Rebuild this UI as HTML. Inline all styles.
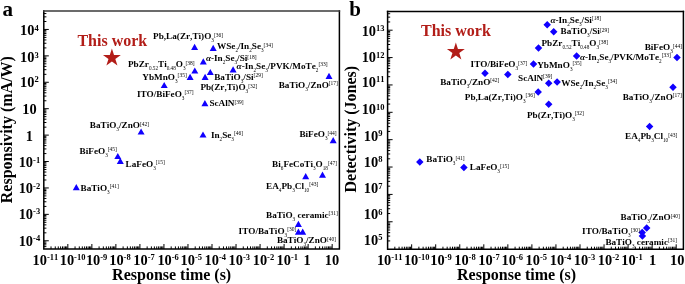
<!DOCTYPE html>
<html><head><meta charset="utf-8"><title>Responsivity and detectivity vs response time</title>
<style>
html,body{margin:0;padding:0;background:#fff;}
body{width:685px;height:284px;overflow:hidden;font-family:"Liberation Serif",serif;}
svg{display:block;will-change:transform;font-kerning:none;}
</style></head><body>
<svg width="685" height="284" viewBox="0 0 685 284" font-family='"Liberation Serif", serif' font-weight="bold"><path d="M43.8 11V249H339.4V11" fill="none" stroke="#000" stroke-width="1.5" stroke-linecap="square"/>
<path d="M43.8 11H339.4" fill="none" stroke="#3a3a3a" stroke-width="1.5" stroke-linecap="square"/>
<path d="M51.03 249V246.4M55.27 249V246.4M58.27 249V246.4M60.6 249V246.4M62.5 249V246.4M64.11 249V246.4M65.5 249V246.4M66.73 249V246.4M67.83 249V244M75.06 249V246.4M79.3 249V246.4M82.3 249V246.4M84.63 249V246.4M86.53 249V246.4M88.14 249V246.4M89.53 249V246.4M90.76 249V246.4M91.86 249V244M99.09 249V246.4M103.33 249V246.4M106.33 249V246.4M108.66 249V246.4M110.56 249V246.4M112.17 249V246.4M113.56 249V246.4M114.79 249V246.4M115.89 249V244M123.12 249V246.4M127.36 249V246.4M130.36 249V246.4M132.69 249V246.4M134.59 249V246.4M136.2 249V246.4M137.59 249V246.4M138.82 249V246.4M139.92 249V244M147.15 249V246.4M151.39 249V246.4M154.39 249V246.4M156.72 249V246.4M158.62 249V246.4M160.23 249V246.4M161.62 249V246.4M162.85 249V246.4M163.95 249V244M171.18 249V246.4M175.42 249V246.4M178.42 249V246.4M180.75 249V246.4M182.65 249V246.4M184.26 249V246.4M185.65 249V246.4M186.88 249V246.4M187.98 249V244M195.21 249V246.4M199.45 249V246.4M202.45 249V246.4M204.78 249V246.4M206.68 249V246.4M208.29 249V246.4M209.68 249V246.4M210.91 249V246.4M212.01 249V244M219.24 249V246.4M223.48 249V246.4M226.48 249V246.4M228.81 249V246.4M230.71 249V246.4M232.32 249V246.4M233.71 249V246.4M234.94 249V246.4M236.04 249V244M243.27 249V246.4M247.51 249V246.4M250.51 249V246.4M252.84 249V246.4M254.74 249V246.4M256.35 249V246.4M257.74 249V246.4M258.97 249V246.4M260.07 249V244M267.3 249V246.4M271.54 249V246.4M274.54 249V246.4M276.87 249V246.4M278.77 249V246.4M280.38 249V246.4M281.77 249V246.4M283 249V246.4M284.1 249V244M291.33 249V246.4M295.57 249V246.4M298.57 249V246.4M300.9 249V246.4M302.8 249V246.4M304.41 249V246.4M305.8 249V246.4M307.03 249V246.4M308.13 249V244M315.36 249V246.4M319.6 249V246.4M322.6 249V246.4M324.93 249V246.4M326.83 249V246.4M328.44 249V246.4M329.83 249V246.4M331.06 249V246.4M332.16 249V244M43.8 246.64H46.4M43.8 244.87H46.4M43.8 243.34H46.4M43.8 241.99H46.4M43.8 240.78H48.8M43.8 232.83H46.4M43.8 228.17H46.4M43.8 224.87H46.4M43.8 222.31H46.4M43.8 220.22H46.4M43.8 218.45H46.4M43.8 216.92H46.4M43.8 215.57H46.4M43.8 214.36H48.8M43.8 206.41H46.4M43.8 201.76H46.4M43.8 198.46H46.4M43.8 195.9H46.4M43.8 193.81H46.4M43.8 192.04H46.4M43.8 190.51H46.4M43.8 189.15H46.4M43.8 187.95H48.8M43.8 179.99H46.4M43.8 175.34H46.4M43.8 172.04H46.4M43.8 169.48H46.4M43.8 167.39H46.4M43.8 165.62H46.4M43.8 164.09H46.4M43.8 162.74H46.4M43.8 161.53H48.8M43.8 153.58H46.4M43.8 148.93H46.4M43.8 145.63H46.4M43.8 143.07H46.4M43.8 140.97H46.4M43.8 139.21H46.4M43.8 137.67H46.4M43.8 136.32H46.4M43.8 135.11H48.8M43.8 127.16H46.4M43.8 122.51H46.4M43.8 119.21H46.4M43.8 116.65H46.4M43.8 114.56H46.4M43.8 112.79H46.4M43.8 111.26H46.4M43.8 109.91H46.4M43.8 108.7H48.8M43.8 100.75H46.4M43.8 96.09H46.4M43.8 92.79H46.4M43.8 90.23H46.4M43.8 88.14H46.4M43.8 86.37H46.4M43.8 84.84H46.4M43.8 83.49H46.4M43.8 82.28H48.8M43.8 74.33H46.4M43.8 69.68H46.4M43.8 66.38H46.4M43.8 63.82H46.4M43.8 61.73H46.4M43.8 59.96H46.4M43.8 58.43H46.4M43.8 57.07H46.4M43.8 55.87H48.8M43.8 47.91H46.4M43.8 43.26H46.4M43.8 39.96H46.4M43.8 37.4H46.4M43.8 35.31H46.4M43.8 33.54H46.4M43.8 32.01H46.4M43.8 30.66H46.4M43.8 29.45H48.8M43.8 21.5H46.4M43.8 16.85H46.4M43.8 13.55H46.4" stroke="#000" stroke-width="1" fill="none"/>
<path d="M387.6 11.4V249.3H683.4V11.4" fill="none" stroke="#000" stroke-width="1.5" stroke-linecap="square"/>
<path d="M387.6 11.4H683.4" fill="none" stroke="#000" stroke-width="1.5" stroke-linecap="square"/>
<path d="M394.84 249.3V246.7M399.07 249.3V246.7M402.08 249.3V246.7M404.41 249.3V246.7M406.31 249.3V246.7M407.92 249.3V246.7M409.32 249.3V246.7M410.55 249.3V246.7M411.65 249.3V244.3M418.89 249.3V246.7M423.12 249.3V246.7M426.13 249.3V246.7M428.46 249.3V246.7M430.36 249.3V246.7M431.97 249.3V246.7M433.37 249.3V246.7M434.6 249.3V246.7M435.7 249.3V244.3M442.94 249.3V246.7M447.17 249.3V246.7M450.18 249.3V246.7M452.51 249.3V246.7M454.41 249.3V246.7M456.02 249.3V246.7M457.42 249.3V246.7M458.65 249.3V246.7M459.75 249.3V244.3M466.99 249.3V246.7M471.22 249.3V246.7M474.23 249.3V246.7M476.56 249.3V246.7M478.46 249.3V246.7M480.07 249.3V246.7M481.47 249.3V246.7M482.7 249.3V246.7M483.8 249.3V244.3M491.04 249.3V246.7M495.27 249.3V246.7M498.28 249.3V246.7M500.61 249.3V246.7M502.51 249.3V246.7M504.12 249.3V246.7M505.52 249.3V246.7M506.75 249.3V246.7M507.85 249.3V244.3M515.09 249.3V246.7M519.32 249.3V246.7M522.33 249.3V246.7M524.66 249.3V246.7M526.56 249.3V246.7M528.17 249.3V246.7M529.57 249.3V246.7M530.8 249.3V246.7M531.9 249.3V244.3M539.14 249.3V246.7M543.37 249.3V246.7M546.38 249.3V246.7M548.71 249.3V246.7M550.61 249.3V246.7M552.22 249.3V246.7M553.62 249.3V246.7M554.85 249.3V246.7M555.95 249.3V244.3M563.19 249.3V246.7M567.42 249.3V246.7M570.43 249.3V246.7M572.76 249.3V246.7M574.66 249.3V246.7M576.27 249.3V246.7M577.67 249.3V246.7M578.9 249.3V246.7M580 249.3V244.3M587.24 249.3V246.7M591.47 249.3V246.7M594.48 249.3V246.7M596.81 249.3V246.7M598.71 249.3V246.7M600.32 249.3V246.7M601.72 249.3V246.7M602.95 249.3V246.7M604.05 249.3V244.3M611.29 249.3V246.7M615.52 249.3V246.7M618.53 249.3V246.7M620.86 249.3V246.7M622.76 249.3V246.7M624.37 249.3V246.7M625.77 249.3V246.7M627 249.3V246.7M628.1 249.3V244.3M635.34 249.3V246.7M639.57 249.3V246.7M642.58 249.3V246.7M644.91 249.3V246.7M646.81 249.3V246.7M648.42 249.3V246.7M649.82 249.3V246.7M651.05 249.3V246.7M652.15 249.3V244.3M659.39 249.3V246.7M663.62 249.3V246.7M666.63 249.3V246.7M668.96 249.3V246.7M670.86 249.3V246.7M672.47 249.3V246.7M673.87 249.3V246.7M675.1 249.3V246.7M676.2 249.3V244.3M387.6 240.91H390.2M387.6 236.09H390.2M387.6 232.67H390.2M387.6 230.01H390.2M387.6 227.85H390.2M387.6 226.02H390.2M387.6 224.43H390.2M387.6 223.03H390.2M387.6 221.78H392.6M387.6 213.54H390.2M387.6 208.72H390.2M387.6 205.3H390.2M387.6 202.65H390.2M387.6 200.48H390.2M387.6 198.65H390.2M387.6 197.06H390.2M387.6 195.66H390.2M387.6 194.41H392.6M387.6 186.17H390.2M387.6 181.35H390.2M387.6 177.93H390.2M387.6 175.28H390.2M387.6 173.11H390.2M387.6 171.28H390.2M387.6 169.69H390.2M387.6 168.29H390.2M387.6 167.04H392.6M387.6 158.8H390.2M387.6 153.98H390.2M387.6 150.56H390.2M387.6 147.91H390.2M387.6 145.74H390.2M387.6 143.91H390.2M387.6 142.32H390.2M387.6 140.92H390.2M387.6 139.67H392.6M387.6 131.43H390.2M387.6 126.61H390.2M387.6 123.19H390.2M387.6 120.54H390.2M387.6 118.38H390.2M387.6 116.54H390.2M387.6 114.96H390.2M387.6 113.56H390.2M387.6 112.3H392.6M387.6 104.07H390.2M387.6 99.25H390.2M387.6 95.83H390.2M387.6 93.17H390.2M387.6 91.01H390.2M387.6 89.18H390.2M387.6 87.59H390.2M387.6 86.19H390.2M387.6 84.94H392.6M387.6 76.7H390.2M387.6 71.88H390.2M387.6 68.46H390.2M387.6 65.81H390.2M387.6 63.64H390.2M387.6 61.81H390.2M387.6 60.22H390.2M387.6 58.82H390.2M387.6 57.57H392.6M387.6 49.33H390.2M387.6 44.51H390.2M387.6 41.09H390.2M387.6 38.44H390.2M387.6 36.27H390.2M387.6 34.44H390.2M387.6 32.85H390.2M387.6 31.45H390.2M387.6 30.2H392.6M387.6 21.96H390.2M387.6 17.14H390.2M387.6 13.72H390.2" stroke="#000" stroke-width="1" fill="none"/>
<text x="32.59" y="264.5" fill="#000" text-anchor="start"><tspan dy="0" font-size="14.4">10</tspan><tspan dy="-5" font-size="8.5">-11</tspan></text>
<text x="59.69" y="264.5" fill="#000" text-anchor="start"><tspan dy="0" font-size="14.4">10</tspan><tspan dy="-5" font-size="8.5">-10</tspan></text>
<text x="85.89" y="264.5" fill="#000" text-anchor="start"><tspan dy="0" font-size="14.4">10</tspan><tspan dy="-5" font-size="8.5">-9</tspan></text>
<text x="109.19" y="264.5" fill="#000" text-anchor="start"><tspan dy="0" font-size="14.4">10</tspan><tspan dy="-5" font-size="8.5">-8</tspan></text>
<text x="133.29" y="264.5" fill="#000" text-anchor="start"><tspan dy="0" font-size="14.4">10</tspan><tspan dy="-5" font-size="8.5">-7</tspan></text>
<text x="157.39" y="264.5" fill="#000" text-anchor="start"><tspan dy="0" font-size="14.4">10</tspan><tspan dy="-5" font-size="8.5">-6</tspan></text>
<text x="180.49" y="264.5" fill="#000" text-anchor="start"><tspan dy="0" font-size="14.4">10</tspan><tspan dy="-5" font-size="8.5">-5</tspan></text>
<text x="204.49" y="264.5" fill="#000" text-anchor="start"><tspan dy="0" font-size="14.4">10</tspan><tspan dy="-5" font-size="8.5">-4</tspan></text>
<text x="228.59" y="264.5" fill="#000" text-anchor="start"><tspan dy="0" font-size="14.4">10</tspan><tspan dy="-5" font-size="8.5">-3</tspan></text>
<text x="252.69" y="264.5" fill="#000" text-anchor="start"><tspan dy="0" font-size="14.4">10</tspan><tspan dy="-5" font-size="8.5">-2</tspan></text>
<text x="276.49" y="264.5" fill="#000" text-anchor="start"><tspan dy="0" font-size="14.4">10</tspan><tspan dy="-5" font-size="8.5">-1</tspan></text>
<text x="303.49" y="264.5" fill="#000" text-anchor="start"><tspan dy="0" font-size="14.4">1</tspan></text>
<text x="324.69" y="264.5" fill="#000" text-anchor="start"><tspan dy="0" font-size="14.4">10</tspan></text>
<text x="376.89" y="264.5" fill="#000" text-anchor="start"><tspan dy="0" font-size="14.4">10</tspan><tspan dy="-5" font-size="8.5">-11</tspan></text>
<text x="403.89" y="264.5" fill="#000" text-anchor="start"><tspan dy="0" font-size="14.4">10</tspan><tspan dy="-5" font-size="8.5">-10</tspan></text>
<text x="430.19" y="264.5" fill="#000" text-anchor="start"><tspan dy="0" font-size="14.4">10</tspan><tspan dy="-5" font-size="8.5">-9</tspan></text>
<text x="454.19" y="264.5" fill="#000" text-anchor="start"><tspan dy="0" font-size="14.4">10</tspan><tspan dy="-5" font-size="8.5">-8</tspan></text>
<text x="478.19" y="264.5" fill="#000" text-anchor="start"><tspan dy="0" font-size="14.4">10</tspan><tspan dy="-5" font-size="8.5">-7</tspan></text>
<text x="501.59" y="264.5" fill="#000" text-anchor="start"><tspan dy="0" font-size="14.4">10</tspan><tspan dy="-5" font-size="8.5">-6</tspan></text>
<text x="525.59" y="264.5" fill="#000" text-anchor="start"><tspan dy="0" font-size="14.4">10</tspan><tspan dy="-5" font-size="8.5">-5</tspan></text>
<text x="549.69" y="264.5" fill="#000" text-anchor="start"><tspan dy="0" font-size="14.4">10</tspan><tspan dy="-5" font-size="8.5">-4</tspan></text>
<text x="573.69" y="264.5" fill="#000" text-anchor="start"><tspan dy="0" font-size="14.4">10</tspan><tspan dy="-5" font-size="8.5">-3</tspan></text>
<text x="597.84" y="264.5" fill="#000" text-anchor="start"><tspan dy="0" font-size="14.4">10</tspan><tspan dy="-5" font-size="8.5">-2</tspan></text>
<text x="621.19" y="264.5" fill="#000" text-anchor="start"><tspan dy="0" font-size="14.4">10</tspan><tspan dy="-5" font-size="8.5">-1</tspan></text>
<text x="648.99" y="264.5" fill="#000" text-anchor="start"><tspan dy="0" font-size="14.4">1</tspan></text>
<text x="670.09" y="264.5" fill="#000" text-anchor="start"><tspan dy="0" font-size="14.4">10</tspan></text>
<text x="29.4" y="245.75" fill="#000" text-anchor="middle"><tspan dy="0" font-size="14.4">10</tspan><tspan dy="-4.3" font-size="8.5">-4</tspan></text>
<text x="29.4" y="218.75" fill="#000" text-anchor="middle"><tspan dy="0" font-size="14.4">10</tspan><tspan dy="-4.3" font-size="8.5">-3</tspan></text>
<text x="29.4" y="192.95" fill="#000" text-anchor="middle"><tspan dy="0" font-size="14.4">10</tspan><tspan dy="-4.3" font-size="8.5">-2</tspan></text>
<text x="29.4" y="166.85" fill="#000" text-anchor="middle"><tspan dy="0" font-size="14.4">10</tspan><tspan dy="-4.3" font-size="8.5">-1</tspan></text>
<text x="29.4" y="140.75" fill="#000" text-anchor="middle"><tspan dy="0" font-size="14.4">1</tspan></text>
<text x="29.4" y="113.75" fill="#000" text-anchor="middle"><tspan dy="0" font-size="14.4">10</tspan></text>
<text x="29.4" y="86.65" fill="#000" text-anchor="middle"><tspan dy="0" font-size="14.4">10</tspan><tspan dy="-4.3" font-size="8.5">2</tspan></text>
<text x="29.4" y="61.85" fill="#000" text-anchor="middle"><tspan dy="0" font-size="14.4">10</tspan><tspan dy="-4.3" font-size="8.5">3</tspan></text>
<text x="29.4" y="35.05" fill="#000" text-anchor="middle"><tspan dy="0" font-size="14.4">10</tspan><tspan dy="-4.3" font-size="8.5">4</tspan></text>
<text x="373.1" y="35.6" fill="#000" text-anchor="middle"><tspan dy="0" font-size="14.4">10</tspan><tspan dy="-4.3" font-size="8.5">13</tspan></text>
<text x="373.1" y="62" fill="#000" text-anchor="middle"><tspan dy="0" font-size="14.4">10</tspan><tspan dy="-4.3" font-size="8.5">12</tspan></text>
<text x="373.1" y="86.6" fill="#000" text-anchor="middle"><tspan dy="0" font-size="14.4">10</tspan><tspan dy="-4.3" font-size="8.5">11</tspan></text>
<text x="373.1" y="113.8" fill="#000" text-anchor="middle"><tspan dy="0" font-size="14.4">10</tspan><tspan dy="-4.3" font-size="8.5">10</tspan></text>
<text x="373.1" y="140.7" fill="#000" text-anchor="middle"><tspan dy="0" font-size="14.4">10</tspan><tspan dy="-4.3" font-size="8.5">9</tspan></text>
<text x="373.1" y="166.7" fill="#000" text-anchor="middle"><tspan dy="0" font-size="14.4">10</tspan><tspan dy="-4.3" font-size="8.5">8</tspan></text>
<text x="373.1" y="192.8" fill="#000" text-anchor="middle"><tspan dy="0" font-size="14.4">10</tspan><tspan dy="-4.3" font-size="8.5">7</tspan></text>
<text x="373.1" y="219.1" fill="#000" text-anchor="middle"><tspan dy="0" font-size="14.4">10</tspan><tspan dy="-4.3" font-size="8.5">6</tspan></text>
<text x="373.1" y="244.5" fill="#000" text-anchor="middle"><tspan dy="0" font-size="14.4">10</tspan><tspan dy="-4.3" font-size="8.5">5</tspan></text>
<text x="112.1" y="279.8" font-size="16">Response time (s)</text>
<text x="457" y="279.8" font-size="16">Response time (s)</text>
<text transform="translate(11.6 203.2) rotate(-90)" font-size="16">Responsivity (mA/W)</text>
<text transform="translate(355.6 192.5) rotate(-90)" font-size="16">Detectivity (Jones)</text>
<text x="2.6" y="15.5" font-size="21">a</text>
<text x="349.3" y="15.7" font-size="21">b</text>
<text x="77.4" y="45.5" font-size="16" fill="#B21D18">This work</text>
<text x="421" y="35.5" font-size="16" fill="#B21D18">This work</text>
<polygon points="111.9,48.5 114.01,54.99 120.84,55 115.32,59.01 117.43,65.5 111.9,61.49 106.37,65.5 108.48,59.01 102.96,55 109.79,54.99" fill="#B21D18"/>
<polygon points="455.85,42.5 457.96,48.99 464.79,49 459.27,53.01 461.38,59.5 455.85,55.49 450.32,59.5 452.43,53.01 446.91,49 453.74,48.99" fill="#B21D18"/>
<path d="M194.6 43.7L198.1 49.9L191.1 49.9ZM213.2 44.7L216.7 50.9L209.7 50.9ZM203.3 58.25L206.8 64.45L199.8 64.45ZM233.1 66.2L236.6 72.4L229.6 72.4ZM194.8 67.4L198.3 73.6L191.3 73.6ZM210.3 68.9L213.8 75.1L206.8 75.1ZM190.1 73.8L193.6 80L186.6 80ZM205.1 73.8L208.6 80L201.6 80ZM164.2 81.9L167.7 88.1L160.7 88.1ZM329 72.7L332.5 78.9L325.5 78.9ZM204.9 100L208.4 106.2L201.4 106.2ZM141.1 128.4L144.6 134.6L137.6 134.6ZM203 131.4L206.5 137.6L199.5 137.6ZM333.2 137.1L336.7 143.3L329.7 143.3ZM117.8 152.9L121.3 159.1L114.3 159.1ZM120.3 157.7L123.8 163.9L116.8 163.9ZM305.7 173.1L309.2 179.3L302.2 179.3ZM322.5 171.6L326 177.8L319 177.8ZM76.3 184L79.8 190.2L72.8 190.2ZM298.4 220.8L301.9 227L294.9 227ZM298.4 228.6L301.9 234.8L294.9 234.8ZM302.7 228.6L306.2 234.8L299.2 234.8Z" fill="#1000FF"/>
<path d="M547.2 21.05L550.95 24.8L547.2 28.55L543.45 24.8ZM553.7 27.95L557.45 31.7L553.7 35.45L549.95 31.7ZM538.5 44.35L542.25 48.1L538.5 51.85L534.75 48.1ZM576.6 52.35L580.35 56.1L576.6 59.85L572.85 56.1ZM677 53.75L680.75 57.5L677 61.25L673.25 57.5ZM533.5 60.15L537.25 63.9L533.5 67.65L529.75 63.9ZM485 69.55L488.75 73.3L485 77.05L481.25 73.3ZM507.8 70.65L511.55 74.4L507.8 78.15L504.05 74.4ZM548.7 79.45L552.45 83.2L548.7 86.95L544.95 83.2ZM557.1 78.35L560.85 82.1L557.1 85.85L553.35 82.1ZM538.2 88.25L541.95 92L538.2 95.75L534.45 92ZM548.7 100.45L552.45 104.2L548.7 107.95L544.95 104.2ZM673 83.55L676.75 87.3L673 91.05L669.25 87.3ZM649.6 122.65L653.35 126.4L649.6 130.15L645.85 126.4ZM419.8 158.35L423.55 162.1L419.8 165.85L416.05 162.1ZM463.9 163.75L467.65 167.5L463.9 171.25L460.15 167.5ZM646.7 224.15L650.45 227.9L646.7 231.65L642.95 227.9ZM642.2 228.65L645.95 232.4L642.2 236.15L638.45 232.4ZM642.4 232.35L646.15 236.1L642.4 239.85L638.65 236.1Z" fill="#1000FF"/>
<text x="153.1" y="39.2" fill="#000" text-anchor="start"><tspan dy="0" font-size="9.2">Pb,La(Zr,Ti)O</tspan><tspan dy="3" font-size="5.2" font-weight="normal">3</tspan><tspan dy="-5.5" font-size="5.5" font-weight="normal">[36]</tspan></text>
<text x="217" y="49" fill="#000" text-anchor="start"><tspan dy="0" font-size="9.2">WSe</tspan><tspan dy="3" font-size="5.2" font-weight="normal">2</tspan><tspan dy="-3" font-size="9.2">/In</tspan><tspan dy="3" font-size="5.2" font-weight="normal">2</tspan><tspan dy="-3" font-size="9.2">Se</tspan><tspan dy="3" font-size="5.2" font-weight="normal">3</tspan><tspan dy="-5.5" font-size="5.5" font-weight="normal">[34]</tspan></text>
<text x="205.9" y="61" fill="#000" text-anchor="start"><tspan dy="0" font-size="9.2"><tspan font-style="italic">α</tspan>-In</tspan><tspan dy="3" font-size="5.2" font-weight="normal">2</tspan><tspan dy="-3" font-size="9.2">Se</tspan><tspan dy="3" font-size="5.2" font-weight="normal">3</tspan><tspan dy="-3" font-size="9.2">/Si</tspan><tspan dy="-2.5" font-size="5.5" font-weight="normal">[18]</tspan></text>
<text x="128" y="67.3" fill="#000" text-anchor="start"><tspan dy="0" font-size="9.2">PbZr</tspan><tspan dy="3" font-size="5.2" font-weight="normal">0.52</tspan><tspan dy="-3" font-size="9.2">Ti</tspan><tspan dy="3" font-size="5.2" font-weight="normal">0.48</tspan><tspan dy="-3" font-size="9.2">O</tspan><tspan dy="3" font-size="5.2" font-weight="normal">3</tspan><tspan dy="-5.5" font-size="5.5" font-weight="normal">[38]</tspan></text>
<text x="236.6" y="68.5" fill="#000" text-anchor="start"><tspan dy="0" font-size="9.2"><tspan font-style="italic">α</tspan>-In</tspan><tspan dy="3" font-size="5.2" font-weight="normal">2</tspan><tspan dy="-3" font-size="9.2">Se</tspan><tspan dy="3" font-size="5.2" font-weight="normal">3</tspan><tspan dy="-3" font-size="9.2">/PVK/MoTe</tspan><tspan dy="3" font-size="5.2" font-weight="normal">2</tspan><tspan dy="-5.5" font-size="5.5" font-weight="normal">[33]</tspan></text>
<text x="142.3" y="79.8" fill="#000" text-anchor="start"><tspan dy="0" font-size="9.2">YbMnO</tspan><tspan dy="3" font-size="5.2" font-weight="normal">3</tspan><tspan dy="-5.5" font-size="5.5" font-weight="normal">[35]</tspan></text>
<text x="214.2" y="79.8" fill="#000" text-anchor="start"><tspan dy="0" font-size="9.2">BaTiO</tspan><tspan dy="3" font-size="5.2" font-weight="normal">3</tspan><tspan dy="-3" font-size="9.2">/Si</tspan><tspan dy="-2.5" font-size="5.5" font-weight="normal">[29]</tspan></text>
<text x="200.4" y="90.3" fill="#000" text-anchor="start"><tspan dy="0" font-size="9.2">Pb(Zr,Ti)O</tspan><tspan dy="3" font-size="5.2" font-weight="normal">3</tspan><tspan dy="-5.5" font-size="5.5" font-weight="normal">[32]</tspan></text>
<text x="136.9" y="96.7" fill="#000" text-anchor="start"><tspan dy="0" font-size="9.2">ITO/BiFeO</tspan><tspan dy="3" font-size="5.2" font-weight="normal">3</tspan><tspan dy="-5.5" font-size="5.5" font-weight="normal">[37]</tspan></text>
<text x="278.7" y="87.8" fill="#000" text-anchor="start"><tspan dy="0" font-size="9.2">BaTiO</tspan><tspan dy="3" font-size="5.2" font-weight="normal">3</tspan><tspan dy="-3" font-size="9.2">/ZnO</tspan><tspan dy="-2.5" font-size="5.5" font-weight="normal">[17]</tspan></text>
<text x="209.4" y="106.4" fill="#000" text-anchor="start"><tspan dy="0" font-size="9.2">ScAlN</tspan><tspan dy="-2.5" font-size="5.5" font-weight="normal">[39]</tspan></text>
<text x="89.8" y="128.1" fill="#000" text-anchor="start"><tspan dy="0" font-size="9.2">BaTiO</tspan><tspan dy="3" font-size="5.2" font-weight="normal">3</tspan><tspan dy="-3" font-size="9.2">/ZnO</tspan><tspan dy="-2.5" font-size="5.5" font-weight="normal">[42]</tspan></text>
<text x="210.9" y="137.8" fill="#000" text-anchor="start"><tspan dy="0" font-size="9.2">In</tspan><tspan dy="3" font-size="5.2" font-weight="normal">2</tspan><tspan dy="-3" font-size="9.2">Se</tspan><tspan dy="3" font-size="5.2" font-weight="normal">3</tspan><tspan dy="-5.5" font-size="5.5" font-weight="normal">[46]</tspan></text>
<text x="299.4" y="137.1" fill="#000" text-anchor="start"><tspan dy="0" font-size="9.2">BiFeO</tspan><tspan dy="3" font-size="5.2" font-weight="normal">3</tspan><tspan dy="-5.5" font-size="5.5" font-weight="normal">[44]</tspan></text>
<text x="79.6" y="153.8" fill="#000" text-anchor="start"><tspan dy="0" font-size="9.2">BiFeO</tspan><tspan dy="3" font-size="5.2" font-weight="normal">3</tspan><tspan dy="-5.5" font-size="5.5" font-weight="normal">[45]</tspan></text>
<text x="125.6" y="166.7" fill="#000" text-anchor="start"><tspan dy="0" font-size="9.2">LaFeO</tspan><tspan dy="3" font-size="5.2" font-weight="normal">3</tspan><tspan dy="-5.5" font-size="5.5" font-weight="normal">[15]</tspan></text>
<text x="272.1" y="167.1" fill="#000" text-anchor="start"><tspan dy="0" font-size="9.2">Bi</tspan><tspan dy="3" font-size="5.2" font-weight="normal">6</tspan><tspan dy="-3" font-size="9.2">FeCoTi</tspan><tspan dy="3" font-size="5.2" font-weight="normal">3</tspan><tspan dy="-3" font-size="9.2">O</tspan><tspan dy="3" font-size="5.2" font-weight="normal">18</tspan><tspan dy="-5.5" font-size="5.5" font-weight="normal">[47]</tspan></text>
<text x="266.1" y="188.7" fill="#000" text-anchor="start"><tspan dy="0" font-size="9.2">EA</tspan><tspan dy="3" font-size="5.2" font-weight="normal">4</tspan><tspan dy="-3" font-size="9.2">Pb</tspan><tspan dy="3" font-size="5.2" font-weight="normal">3</tspan><tspan dy="-3" font-size="9.2">Cl</tspan><tspan dy="3" font-size="5.2" font-weight="normal">10</tspan><tspan dy="-5.5" font-size="5.5" font-weight="normal">[43]</tspan></text>
<text x="80.5" y="190.7" fill="#000" text-anchor="start"><tspan dy="0" font-size="9.2">BaTiO</tspan><tspan dy="3" font-size="5.2" font-weight="normal">3</tspan><tspan dy="-5.5" font-size="5.5" font-weight="normal">[41]</tspan></text>
<text x="266" y="217.8" fill="#000" text-anchor="start"><tspan dy="0" font-size="9.2">BaTiO</tspan><tspan dy="3" font-size="5.2" font-weight="normal">3</tspan><tspan dy="-3" font-size="9.2"> ceramic</tspan><tspan dy="-2.5" font-size="5.5" font-weight="normal">[31]</tspan></text>
<text x="238.6" y="233.7" fill="#000" text-anchor="start"><tspan dy="0" font-size="9.2">ITO/BaTiO</tspan><tspan dy="3" font-size="5.2" font-weight="normal">3</tspan><tspan dy="-5.5" font-size="5.5" font-weight="normal">[30]</tspan></text>
<text x="276.9" y="243.4" fill="#000" text-anchor="start"><tspan dy="0" font-size="9.2">BaTiO</tspan><tspan dy="3" font-size="5.2" font-weight="normal">3</tspan><tspan dy="-3" font-size="9.2">/ZnO</tspan><tspan dy="-2.5" font-size="5.5" font-weight="normal">[40]</tspan></text>
<text x="550.4" y="22.5" fill="#000" text-anchor="start"><tspan dy="0" font-size="9.2"><tspan font-style="italic">α</tspan>-In</tspan><tspan dy="3" font-size="5.2" font-weight="normal">2</tspan><tspan dy="-3" font-size="9.2">Se</tspan><tspan dy="3" font-size="5.2" font-weight="normal">3</tspan><tspan dy="-3" font-size="9.2">/Si</tspan><tspan dy="-2.5" font-size="5.5" font-weight="normal">[18]</tspan></text>
<text x="560.5" y="34" fill="#000" text-anchor="start"><tspan dy="0" font-size="9.2">BaTiO</tspan><tspan dy="3" font-size="5.2" font-weight="normal">3</tspan><tspan dy="-3" font-size="9.2">/Si</tspan><tspan dy="-2.5" font-size="5.5" font-weight="normal">[29]</tspan></text>
<text x="541.5" y="46.2" fill="#000" text-anchor="start"><tspan dy="0" font-size="9.2">PbZr</tspan><tspan dy="3" font-size="5.2" font-weight="normal">0.52</tspan><tspan dy="-3" font-size="9.2">Ti</tspan><tspan dy="3" font-size="5.2" font-weight="normal">0.48</tspan><tspan dy="-3" font-size="9.2">O</tspan><tspan dy="3" font-size="5.2" font-weight="normal">3</tspan><tspan dy="-5.5" font-size="5.5" font-weight="normal">[38]</tspan></text>
<text x="644.7" y="50" fill="#000" text-anchor="start"><tspan dy="0" font-size="9.2">BiFeO</tspan><tspan dy="3" font-size="5.2" font-weight="normal">3</tspan><tspan dy="-5.5" font-size="5.5" font-weight="normal">[44]</tspan></text>
<text x="579.9" y="59.8" fill="#000" text-anchor="start"><tspan dy="0" font-size="9.2"><tspan font-style="italic">α</tspan>-In</tspan><tspan dy="3" font-size="5.2" font-weight="normal">2</tspan><tspan dy="-3" font-size="9.2">Se</tspan><tspan dy="3" font-size="5.2" font-weight="normal">3</tspan><tspan dy="-3" font-size="9.2">/PVK/MoTe</tspan><tspan dy="3" font-size="5.2" font-weight="normal">2</tspan><tspan dy="-5.5" font-size="5.5" font-weight="normal">[33]</tspan></text>
<text x="470.6" y="67" fill="#000" text-anchor="start"><tspan dy="0" font-size="9.2">ITO/BiFeO</tspan><tspan dy="3" font-size="5.2" font-weight="normal">3</tspan><tspan dy="-5.5" font-size="5.5" font-weight="normal">[37]</tspan></text>
<text x="537.2" y="67.7" fill="#000" text-anchor="start"><tspan dy="0" font-size="9.2">YbMnO</tspan><tspan dy="3" font-size="5.2" font-weight="normal">3</tspan><tspan dy="-5.5" font-size="5.5" font-weight="normal">[35]</tspan></text>
<text x="518.1" y="80.8" fill="#000" text-anchor="start"><tspan dy="0" font-size="9.2">ScAlN</tspan><tspan dy="-2.5" font-size="5.5" font-weight="normal">[39]</tspan></text>
<text x="561.3" y="85.6" fill="#000" text-anchor="start"><tspan dy="0" font-size="9.2">WSe</tspan><tspan dy="3" font-size="5.2" font-weight="normal">2</tspan><tspan dy="-3" font-size="9.2">/In</tspan><tspan dy="3" font-size="5.2" font-weight="normal">2</tspan><tspan dy="-3" font-size="9.2">Se</tspan><tspan dy="3" font-size="5.2" font-weight="normal">3</tspan><tspan dy="-5.5" font-size="5.5" font-weight="normal">[34]</tspan></text>
<text x="440.2" y="84.8" fill="#000" text-anchor="start"><tspan dy="0" font-size="9.2">BaTiO</tspan><tspan dy="3" font-size="5.2" font-weight="normal">3</tspan><tspan dy="-3" font-size="9.2">/ZnO</tspan><tspan dy="-2.5" font-size="5.5" font-weight="normal">[42]</tspan></text>
<text x="464.8" y="99.9" fill="#000" text-anchor="start"><tspan dy="0" font-size="9.2">Pb,La(Zr,Ti)O</tspan><tspan dy="3" font-size="5.2" font-weight="normal">3</tspan><tspan dy="-5.5" font-size="5.5" font-weight="normal">[36]</tspan></text>
<text x="622.7" y="99.7" fill="#000" text-anchor="start"><tspan dy="0" font-size="9.2">BaTiO</tspan><tspan dy="3" font-size="5.2" font-weight="normal">3</tspan><tspan dy="-3" font-size="9.2">/ZnO</tspan><tspan dy="-2.5" font-size="5.5" font-weight="normal">[17]</tspan></text>
<text x="527" y="117.5" fill="#000" text-anchor="start"><tspan dy="0" font-size="9.2">Pb(Zr,Ti)O</tspan><tspan dy="3" font-size="5.2" font-weight="normal">3</tspan><tspan dy="-5.5" font-size="5.5" font-weight="normal">[32]</tspan></text>
<text x="625.1" y="139.2" fill="#000" text-anchor="start"><tspan dy="0" font-size="9.2">EA</tspan><tspan dy="3" font-size="5.2" font-weight="normal">4</tspan><tspan dy="-3" font-size="9.2">Pb</tspan><tspan dy="3" font-size="5.2" font-weight="normal">3</tspan><tspan dy="-3" font-size="9.2">Cl</tspan><tspan dy="3" font-size="5.2" font-weight="normal">10</tspan><tspan dy="-5.5" font-size="5.5" font-weight="normal">[43]</tspan></text>
<text x="426.3" y="162" fill="#000" text-anchor="start"><tspan dy="0" font-size="9.2">BaTiO</tspan><tspan dy="3" font-size="5.2" font-weight="normal">3</tspan><tspan dy="-5.5" font-size="5.5" font-weight="normal">[41]</tspan></text>
<text x="469.8" y="170.1" fill="#000" text-anchor="start"><tspan dy="0" font-size="9.2">LaFeO</tspan><tspan dy="3" font-size="5.2" font-weight="normal">3</tspan><tspan dy="-5.5" font-size="5.5" font-weight="normal">[15]</tspan></text>
<text x="620.6" y="220.3" fill="#000" text-anchor="start"><tspan dy="0" font-size="9.2">BaTiO</tspan><tspan dy="3" font-size="5.2" font-weight="normal">3</tspan><tspan dy="-3" font-size="9.2">/ZnO</tspan><tspan dy="-2.5" font-size="5.5" font-weight="normal">[40]</tspan></text>
<text x="582.1" y="234.1" fill="#000" text-anchor="start"><tspan dy="0" font-size="9.2">ITO/BaTiO</tspan><tspan dy="3" font-size="5.2" font-weight="normal">3</tspan><tspan dy="-5.5" font-size="5.5" font-weight="normal">[30]</tspan></text>
<text x="605.4" y="244.6" fill="#000" text-anchor="start"><tspan dy="0" font-size="9.2">BaTiO</tspan><tspan dy="3" font-size="5.2" font-weight="normal">3</tspan><tspan dy="-3" font-size="9.2"> ceramic</tspan><tspan dy="-2.5" font-size="5.5" font-weight="normal">[31]</tspan></text></svg>
</body></html>
